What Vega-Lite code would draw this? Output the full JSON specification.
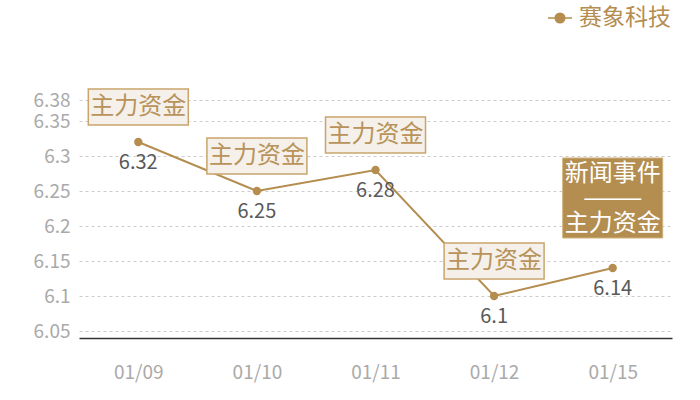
{
  "$schema": "https://vega.github.io/schema/vega-lite/v6.json",
  "autosize": {"type": "none"},
  "padding": {"left": 79, "top": 100, "right": 28, "bottom": 62},
  "width": 593,
  "height": 238,
  "config": {
    "font": "Noto Sans CJK SC",
    "view": {"stroke": null}
  },
  "data": {
    "values": [
      {"date": "01/09", "value": 6.32, "series": "赛象科技", "kind": "fund", "note": "主力资金"},
      {"date": "01/10", "value": 6.25, "series": "赛象科技", "kind": "fund", "note": "主力资金"},
      {"date": "01/11", "value": 6.28, "series": "赛象科技", "kind": "fund", "note": "主力资金"},
      {"date": "01/12", "value": 6.1, "series": "赛象科技", "kind": "fund", "note": "主力资金"},
      {"date": "01/15", "value": 6.14, "series": "赛象科技", "kind": "news", "note": "新闻事件\n———\n主力资金"}
    ]
  },
  "encoding": {
    "x": {
      "field": "date", "type": "nominal", "sort": null,
      "scale": {"type": "point", "padding": 0.5},
      "axis": {
        "title": null, "labelAngle": 0, "labelColor": "#aaaaaa", "labelFontSize": 19,
        "domain": true, "domainColor": "#333333", "domainWidth": 1.5,
        "ticks": false, "labelPadding": 25, "grid": false
      }
    },
    "y": {
      "field": "value", "type": "quantitative",
      "scale": {"domain": [6.04, 6.38], "zero": false, "nice": false},
      "axis": {
        "title": null, "values": [6.05, 6.1, 6.15, 6.2, 6.25, 6.3, 6.35, 6.38],
        "labelExpr": "'' + datum.value",
        "grid": true, "gridDash": [3, 3], "gridColor": "#cccccc", "gridWidth": 1,
        "domain": false, "ticks": false, "labelColor": "#aaaaaa", "labelFontSize": 19,
        "labelPadding": 9
      }
    }
  },
  "layer": [
    {
      "mark": {"type": "line", "strokeWidth": 2},
      "encoding": {
        "color": {
          "field": "series", "type": "nominal",
          "scale": {"range": ["#b48d4f"]},
          "legend": {
            "title": null, "orient": "none", "legendX": 468, "legendY": -95,
            "symbolType": "M-1,0H1M0.4,0A0.4,0.4,0,1,1,-0.4,0A0.4,0.4,0,1,1,0.4,0Z",
            "symbolSize": 576, "symbolStrokeWidth": 1.5,
            "symbolFillColor": "#b48d4f", "symbolStrokeColor": "#b48d4f",
            "labelFontSize": 23, "labelColor": "#b48d4f", "labelOffset": 6
          }
        }
      }
    },
    {
      "mark": {"type": "point", "filled": true, "size": 70, "opacity": 1, "color": "#b48d4f"}
    },
    {
      "mark": {"type": "text", "dy": 21, "baseline": "middle", "fontSize": 20, "color": "#595959"},
      "encoding": {"text": {"field": "value", "type": "nominal"}}
    },
    {
      "transform": [{"filter": "datum.kind == 'fund'"}],
      "mark": {
        "type": "point", "shape": "M-1,-0.36H1V0.36H-1Z", "size": 10000,
        "filled": true, "fill": "#f5f0ea", "stroke": "#c9a56d", "strokeWidth": 1.5,
        "opacity": 1, "yOffset": -35
      }
    },
    {
      "transform": [{"filter": "datum.kind == 'fund'"}],
      "mark": {"type": "text", "dy": -35, "baseline": "middle", "fontSize": 24, "color": "#b8935a"},
      "encoding": {"text": {"field": "note"}}
    },
    {
      "transform": [{"filter": "datum.kind == 'news'"}],
      "mark": {
        "type": "point", "shape": "M-1,-0.8H1V0.8H-1Z", "size": 10000,
        "filled": true, "fill": "#b48e50", "stroke": "#cfb07a", "strokeWidth": 1,
        "opacity": 1, "yOffset": -70
      }
    },
    {
      "transform": [{"filter": "datum.kind == 'news'"}],
      "mark": {"type": "text", "dy": -94, "baseline": "middle", "fontSize": 24, "lineHeight": 25, "lineBreak": "\n", "color": "#ffffff"},
      "encoding": {"text": {"field": "note"}}
    }
  ]
}
